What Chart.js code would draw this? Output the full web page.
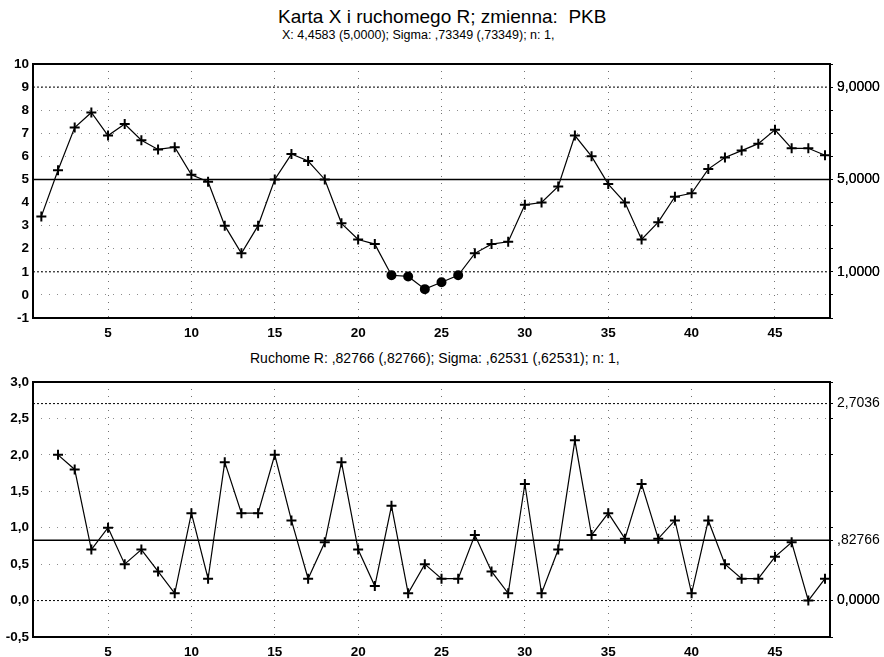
<!DOCTYPE html>
<html>
<head>
<meta charset="utf-8">
<script src="https://cdn.jsdelivr.net/npm/chart.js@4/dist/chart.umd.min.js"></script>
<style>
  body { margin: 0; background: #fff; width: 884px; height: 657px; position: relative; overflow: hidden; font-family: "Liberation Sans", Arial, sans-serif; }
  .t { position: absolute; white-space: nowrap; color: #000; }
  #title { left: 278px; top: 6px; font-size: 19px; }
  #sub1 { left: 282px; top: 28px; font-size: 12.5px; }
  #sub2 { left: 250px; top: 350px; font-size: 14px; }
  #c1 { position: absolute; left: 0; top: 0; }
  #c2 { position: absolute; left: 0; top: 345px; }
</style>
</head>
<body>
<div class="t" id="title">Karta X i ruchomego R; zmienna:&nbsp; PKB</div>
<div class="t" id="sub1">X: 4,4583 (5,0000); Sigma: ,73349 (,73349); n: 1,</div>
<div class="t" id="sub2">Ruchome R: ,82766 (,82766); Sigma: ,62531 (,62531); n: 1,</div>
<canvas id="c1" width="884" height="345"></canvas>
<canvas id="c2" width="884" height="312"></canvas>
<script>
// sample numbers 1..48
const samples = Array.from({length: 48}, (_, i) => i + 1);
// individual values (X chart)
const xValues = [3.4, 5.4, 7.25, 7.9, 6.9, 7.4, 6.7, 6.3, 6.4, 5.2, 4.9, 3.0, 1.8, 3.0, 5.0, 6.1,
  5.8, 5.0, 3.1, 2.4, 2.2, 0.85, 0.8, 0.25, 0.55, 0.85, 1.8, 2.2, 2.3, 3.9, 4.0, 4.7,
  6.9, 6.0, 4.8, 4.0, 2.4, 3.15, 4.25, 4.4, 5.45, 5.95, 6.25, 6.55, 7.15, 6.35, 6.35, 6.05];
// moving ranges (R chart)
const mrValues = [null, 2.0, 1.8, 0.7, 1.0, 0.5, 0.7, 0.4, 0.1, 1.2, 0.3, 1.9, 1.2, 1.2, 2.0, 1.1,
  0.3, 0.8, 1.9, 0.7, 0.2, 1.3, 0.1, 0.5, 0.3, 0.3, 0.9, 0.4, 0.1, 1.6, 0.1, 0.7,
  2.2, 0.9, 1.2, 0.85, 1.6, 0.85, 1.1, 0.1, 1.1, 0.5, 0.3, 0.3, 0.6, 0.8, 0.0, 0.3];

const xTicks = [5, 10, 15, 20, 25, 30, 35, 40, 45];
const xMin = 0.5, xMax = 48.3;

// control limits
const xLimits = {ucl: 9, cl: 5, lcl: 1};
const rLimits = {ucl: 2.7036, cl: 0.82766, lcl: 0};
const rightTicksTop = [1, 5, 9];
const rightLabelsTop = ['1,0000', '5,0000', '9,0000'];
const rightTicksBottom = [0, 0.82766, 2.7036];
const rightLabelsBottom = ['0,0000', ',82766', '2,7036'];

const fam = '"Liberation Sans", Arial, sans-serif';
const font = {family: fam, size: 13.5, weight: 'bold'};

const framePlugin = {
  id: 'frame',
  afterDraw(chart) {
    const {ctx, chartArea: a} = chart;
    ctx.save();
    ctx.strokeStyle = '#000';
    ctx.lineWidth = 2;
    ctx.strokeRect(a.left, a.top, a.right - a.left, a.bottom - a.top);
    ctx.restore();
  }
};

function limitLine(y, dashed, width) {
  return {
    data: [{x: xMin, y: y}, {x: xMax, y: y}],
    borderColor: '#000',
    borderWidth: width,
    borderDash: dashed ? [2, 2] : [],
    pointRadius: 0,
    fill: false
  };
}

function makeChart(id, values, limits, yMin, yMax, step, fmt, rTicks, rLabels, padTop, xH, markLow) {
  const pts = samples.map((s, i) => ({x: s, y: values[i]}));
  const low = v => markLow && v < limits.lcl;
  return new Chart(document.getElementById(id), {
    type: 'line',
    data: {
      datasets: [
        limitLine(limits.ucl, true, 1),
        limitLine(limits.cl, false, 1.5),
        limitLine(limits.lcl, true, 1),
        {
          data: pts,
          borderColor: '#000',
          borderWidth: 1.2,
          pointStyle: values.map(v => low(v) ? 'circle' : 'cross'),
          pointRadius: values.map(v => low(v) ? 4 : 5),
          pointBorderWidth: 2,
          pointBorderColor: '#000',
          pointBackgroundColor: '#000',
          spanGaps: false,
          fill: false
        }
      ]
    },
    options: {
      responsive: false,
      animation: false,
      layout: {padding: {top: padTop, left: 0, right: 0, bottom: 0}},
      plugins: {legend: {display: false}, tooltip: {enabled: false}},
      scales: {
        x: {
          type: 'linear', min: xMin, max: xMax,
          afterBuildTicks: s => { s.ticks = xTicks.map(v => ({value: v})); },
          afterFit: s => { s.height = xH; },
          ticks: {font: font, color: '#000', padding: 7, maxRotation: 0},
          grid: {color: 'rgba(0,0,0,0.55)', drawTicks: false},
          border: {display: false, dash: [1, 6]}
        },
        y: {
          min: yMin, max: yMax,
          afterFit: s => { s.width = 33; },
          ticks: {stepSize: step, font: font, color: '#000', padding: 4, callback: fmt},
          grid: {color: 'rgba(0,0,0,0.45)', drawTicks: false},
          border: {display: false, dash: [1, 7]}
        },
        y2: {
          position: 'right', min: yMin, max: yMax,
          afterFit: s => { s.width = 54; },
          afterBuildTicks: s => {
            const t = [];
            for (let v = yMin; v <= yMax + 1e-9; v += step) t.push({value: v});
            rTicks.forEach(v => t.push({value: v}));
            s.ticks = t;
          },
          ticks: {font: {family: fam, size: 14}, color: '#000', padding: 4, autoSkip: false,
            callback: v => { const k = rTicks.findIndex(r => Math.abs(r - v) < 1e-6); return k >= 0 ? rLabels[k] : ''; }},
          grid: {drawOnChartArea: false, tickLength: 3, color: '#000'},
          border: {display: false}
        }
      }
    },
    plugins: [framePlugin]
  });
}

makeChart('c1', xValues, xLimits, -1, 10, 1, v => String(v), rightTicksTop, rightLabelsTop, 64, 27, true);
makeChart('c2', mrValues, rLimits, -0.5, 3, 0.5, v => v.toFixed(1).replace('.', ','), rightTicksBottom, rightLabelsBottom, 37, 20, false);
</script>
</body>
</html>
